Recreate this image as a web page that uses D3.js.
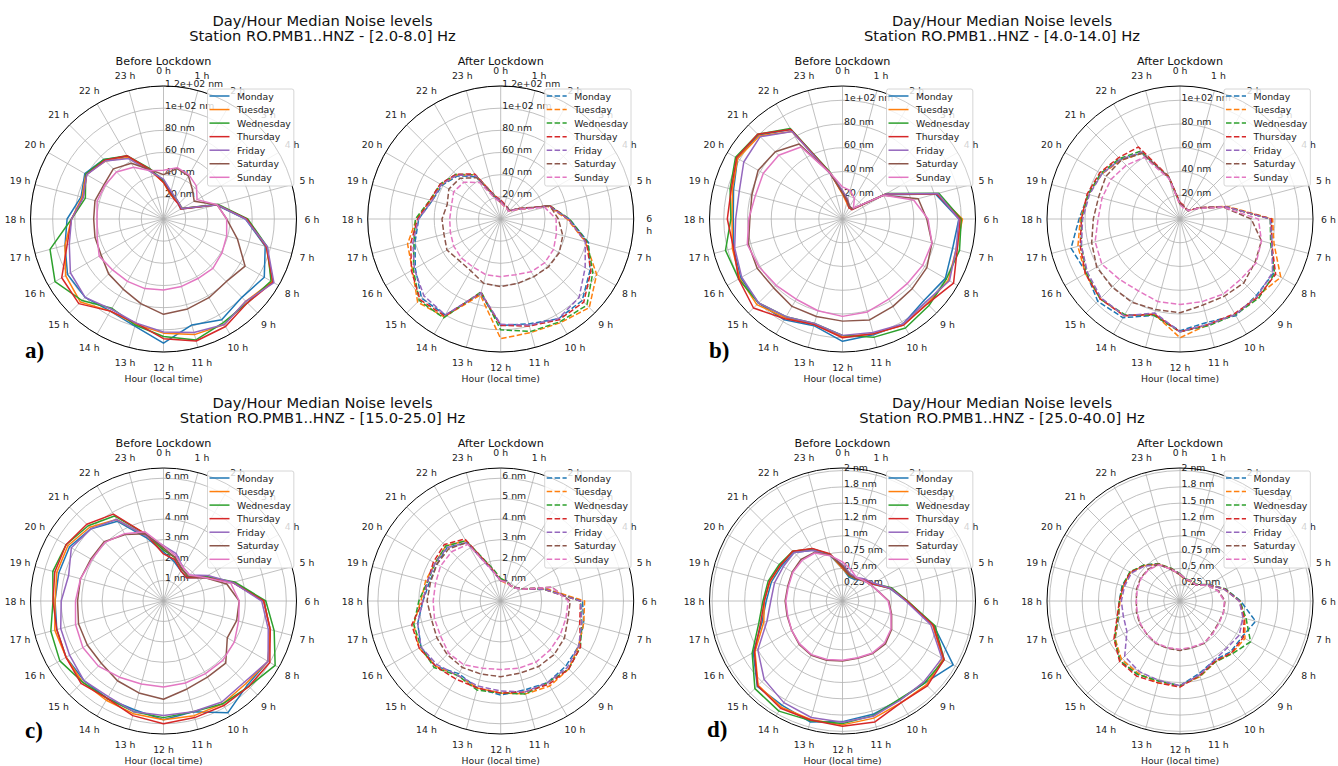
<!DOCTYPE html>
<html><head><meta charset="utf-8">
<script src="https://cdn.jsdelivr.net/npm/d3@7"></script>
<style>
body{margin:0;background:#fff;}
svg{display:block;font-family:"DejaVu Sans",sans-serif;}
</style></head><body>
<svg id="chart" width="1338" height="766"></svg>
<script>
// ---------------- data ----------------
const days = ["Monday","Tuesday","Wednesday","Thursday","Friday","Saturday","Sunday"];
const dayColors = ["#1f77b4","#ff7f0e","#2ca02c","#d62728","#9467bd","#8c564b","#e377c2"];
const hourLabels = ["0 h","1 h","2 h","3 h","4 h","5 h","6 h","7 h","8 h","9 h","10 h","11 h",
  "12 h","13 h","14 h","15 h","16 h","17 h","18 h","19 h","20 h","21 h","22 h","23 h"];
const hours = [0,1,2,3,4,5,6,7,8,9,10,11,12,13,14,15,16,17,18,19,20,21,22,23];

const bandLabels = ["[2.0-8.0] Hz","[4.0-14.0] Hz","[15.0-25.0] Hz","[25.0-40.0] Hz"];
const panelLetters = ["a)","b)","c)","d)"];

const aTicks = [20,40,60,80,100,120];
const aTickLabels = ["20 nm","40 nm","60 nm","80 nm","1e+02 nm","1.2e+02 nm"];
const bTicks = [20,40,60,80,100];
const bTickLabels = ["20 nm","40 nm","60 nm","80 nm","1e+02 nm"];
const cTicks = [1,2,3,4,5,6];
const cTickLabels = ["1 nm","2 nm","3 nm","4 nm","5 nm","6 nm"];
const dTicks = [0.25,0.5,0.75,1,1.25,1.5,1.75,2];
const dTickLabels = ["0.25 nm","0.5 nm","0.75 nm","1 nm","1.2 nm","1.5 nm","1.8 nm","2 nm"];
const radialMax = [120, 112, 6.5, 2.04];

// [2.0-8.0] Hz, before lockdown
const aBeforeMon = [35,25,21,19,18,49,74,95,105,100,105,99,112,100,96,100,100,92,87,77,82,76,65,46];
const aBeforeTue = [33,23,21,20,19,50,75,96,113,105,110,108,103,98,96,106,102,92,83,76,81,74,64,45];
const aBeforeWed = [34,24,22,20,19,51,76,97,112,107,108,113,106,99,93,104,113,106,83,73,81,76,66,47];
const aBeforeThu = [33,24,20,19,18,50,75,96,114,107,112,114,108,97,96,108,106,90,83,75,80,75,66,46];
const aBeforeFri = [36,26,22,20,19,50,74,97,115,105,110,106,102,97,94,100,97,88,83,75,80,74,63,44];
const aBeforeSat = [40,47,45,37,32,50,57,69,85,80,82,84,86,79,73,70,65,64,63,64,62,64,58,46];
const aBeforeSun = [44,48,46,42,35,50,57,59,61,63,62,63,64,65,65,65,67,62,60,62,61,60,54,45];
// [2.0-8.0] Hz, after lockdown
const aAfterMon = [16,13,12,11,18,45,62,82,93,104,104,98,96,70,100,101,89,80,74,64,61,55,44,21];
const aAfterTue = [15,12,11,10,17,44,60,79,100,113,108,106,108,71,102,106,92,87,76,65,62,56,46,22];
const aAfterWed = [16,13,12,10,18,46,62,81,96,110,107,105,100,68,103,104,91,81,77,66,63,57,46,22];
const aAfterThu = [17,14,12,10,19,46,61,80,94,106,105,100,96,69,101,103,93,84,75,66,63,57,47,22];
const aAfterFri = [16,13,12,10,18,45,61,79,88,100,104,99,95,69,100,98,90,82,74,64,62,56,45,21];
const aAfterSat = [15,13,12,11,18,46,52,58,61,61,60,60,61,60,54,53,56,53,53,50,54,52,43,20];
const aAfterSun = [15,12,11,10,17,41,50,52,55,56,55,52,52,52,50,50,49,47,46,46,49,47,38,19];

// [4.0-14.0] Hz, before lockdown
const bBeforeMon = [22,15,11,12,41,81,98,96,100,97,102,101,103,93,98,100,99,95,92,95,102,100,87,40];
const bBeforeTue = [21,14,11,12,42,82,101,99,103,101,103,100,99,92,96,102,100,96,93,96,102,99,85,40];
const bBeforeWed = [23,16,12,12,43,84,100,102,101,103,106,103,98,91,95,100,101,102,94,98,104,101,88,41];
const bBeforeThu = [22,15,11,11,42,82,99,100,108,101,103,100,100,92,97,106,101,95,97,97,103,101,87,40];
const bBeforeFri = [24,17,12,12,42,83,98,99,104,99,102,99,98,91,95,100,98,94,90,90,96,98,85,39];
const bBeforeSat = [22,16,12,12,40,66,71,78,82,83,85,88,86,85,85,82,83,82,78,79,82,80,73,40];
const bBeforeSun = [27,25,20,13,40,62,72,78,78,77,78,81,82,80,78,79,81,83,79,76,77,76,70,40];
// [4.0-14.0] Hz, after lockdown
const bAfterMon = [13,11,10,10,19,40,77,80,91,91,94,90,94,84,96,98,91,95,85,80,76,71,64,36];
const bAfterTue = [12,11,10,10,19,41,78,82,98,92,93,92,100,83,94,95,92,89,84,80,76,70,64,36];
const bAfterWed = [13,11,10,10,18,40,76,79,92,94,93,93,95,84,93,95,91,86,83,80,77,72,66,37];
const bAfterThu = [14,12,10,10,19,40,77,80,93,93,92,92,95,83,94,95,92,87,83,81,78,73,70,37];
const bAfterFri = [13,11,10,10,19,40,76,80,90,92,93,92,95,82,94,94,90,86,82,79,76,71,65,36];
const bAfterSat = [13,11,10,10,19,38,60,71,73,76,75,75,79,79,81,81,81,77,73,71,72,70,64,36];
const bAfterSun = [12,10,10,10,18,38,66,71,74,72,73,72,72,72,70,72,76,74,69,68,67,64,60,35];

// [15.0-25.0] Hz, before lockdown
const cBeforeMon = [2.4,2.0,1.7,1.6,2.3,3.5,4.9,5.4,5.9,5.8,6.3,5.6,5.8,5.5,5.5,5.5,5.5,5.4,5.3,5.3,5.3,5.0,4.5,3.2];
const cBeforeTue = [2.5,2.2,1.8,1.7,2.4,3.5,4.9,5.4,5.9,5.7,5.8,5.8,5.8,5.7,5.6,5.6,5.5,5.5,5.3,5.4,5.4,5.1,4.6,3.3];
const cBeforeWed = [2.5,2.2,1.8,1.7,2.4,3.6,5.0,5.6,6.3,5.9,5.8,5.6,5.7,5.6,5.5,5.6,5.85,5.7,5.4,5.6,5.5,5.2,4.8,3.4];
const cBeforeThu = [2.3,2.1,1.7,1.6,2.3,3.5,4.9,5.4,6.0,5.9,5.9,5.9,6.0,5.8,5.5,5.7,5.5,5.4,5.4,5.5,5.5,5.3,4.9,3.4];
const cBeforeFri = [2.7,2.4,1.9,1.8,2.5,3.5,4.8,5.3,5.9,5.6,5.7,5.6,5.6,5.6,5.4,5.5,5.3,5.2,5.0,4.8,5.2,5.0,4.6,3.3];
const cBeforeSat = [2.6,2.2,1.8,1.7,2.3,3.2,3.7,3.7,3.6,4.3,4.3,4.45,4.8,4.65,4.5,4.3,4.3,4.3,4.2,4.2,4.1,4.1,3.75,3.4];
const cBeforeSun = [2.7,2.3,1.9,1.8,2.3,3.4,3.7,3.8,4.0,4.1,4.1,4.15,4.2,4.2,4.3,4.5,4.55,4.45,4.3,4.2,4.05,4.05,3.8,3.5];
// [15.0-25.0] Hz, after lockdown
const cAfterMon = [1.0,1.0,0.9,0.9,1.2,2.3,4.0,4.2,4.4,4.5,4.6,4.5,4.6,4.4,4.1,4.5,4.5,4.2,3.8,3.6,3.6,3.7,3.3,1.6];
const cAfterTue = [1.0,0.9,0.9,0.9,1.2,2.3,4.1,4.2,4.4,4.7,4.8,4.7,4.5,4.4,4.2,4.5,4.6,4.4,3.9,3.8,3.7,3.8,3.4,1.6];
const cAfterWed = [1.1,1.0,0.9,0.95,1.2,2.2,3.9,4.1,4.5,4.7,4.6,4.7,4.5,4.5,4.2,4.6,4.5,4.4,4.0,3.7,3.7,3.8,3.4,1.7];
const cAfterThu = [1.0,1.0,0.9,0.95,1.2,2.2,3.9,4.0,4.5,4.7,4.7,4.6,4.5,4.4,4.4,4.5,4.6,4.5,3.8,3.7,3.8,3.9,3.5,1.6];
const cAfterFri = [1.0,1.0,0.9,0.95,1.2,2.2,3.9,4.1,4.4,4.6,4.6,4.6,4.4,4.3,4.2,4.4,4.5,4.2,3.8,3.7,3.7,3.7,3.3,1.5];
const cAfterSat = [1.0,1.0,0.9,0.9,1.2,2.6,3.4,3.4,3.6,3.7,3.7,3.65,3.7,3.7,3.75,3.7,3.6,3.5,3.6,3.55,3.6,3.6,3.3,1.6];
const cAfterSun = [1.0,0.95,0.9,0.9,1.15,2.6,3.3,3.3,3.35,3.4,3.45,3.4,3.35,3.4,3.6,3.6,3.4,3.35,3.3,3.3,3.4,3.4,3.2,1.55];

// [25.0-40.0] Hz, before lockdown
const dBeforeMon = [0.5,0.38,0.38,0.45,0.52,0.75,0.98,1.45,1.96,1.78,1.75,1.8,1.85,1.92,1.85,1.85,1.58,1.28,1.17,1.13,1.08,1.05,0.9,0.72];
const dBeforeTue = [0.5,0.4,0.4,0.45,0.53,0.76,1.0,1.43,1.78,1.82,1.8,1.86,1.9,1.88,1.88,1.83,1.55,1.25,1.2,1.15,1.1,1.08,0.92,0.74];
const dBeforeWed = [0.52,0.4,0.4,0.47,0.54,0.78,1.0,1.47,1.8,1.78,1.74,1.82,1.88,1.9,1.95,1.9,1.6,1.33,1.22,1.18,1.12,1.08,0.92,0.74];
const dBeforeThu = [0.52,0.41,0.4,0.46,0.53,0.76,0.99,1.44,1.8,1.84,1.8,1.92,1.92,1.89,1.9,1.84,1.56,1.3,1.2,1.16,1.1,1.08,0.93,0.75];
const dBeforeFri = [0.56,0.44,0.42,0.48,0.55,0.76,0.97,1.4,1.76,1.76,1.76,1.83,1.86,1.85,1.8,1.7,1.5,1.2,1.1,1.08,1.05,1.05,0.9,0.72];
const dBeforeSat = [0.54,0.42,0.4,0.45,0.5,0.57,0.71,0.78,0.87,0.93,0.93,0.91,0.92,0.94,0.96,0.94,0.9,0.88,0.88,0.87,0.89,0.9,0.86,0.73];
const dBeforeSun = [0.6,0.5,0.42,0.45,0.5,0.57,0.7,0.77,0.86,0.91,0.92,0.9,0.91,0.93,0.95,0.93,0.9,0.87,0.87,0.86,0.88,0.88,0.85,0.72];
// [25.0-40.0] Hz, after lockdown
const dAfterMon = [0.41,0.34,0.35,0.35,0.5,0.72,0.93,1.2,1.1,1.1,1.05,1.15,1.3,1.27,1.3,1.3,1.15,0.97,0.93,0.92,0.88,0.78,0.66,0.5];
const dAfterTue = [0.4,0.33,0.34,0.35,0.5,0.7,0.92,1.03,1.15,1.13,1.08,1.2,1.3,1.3,1.28,1.27,1.15,0.98,0.92,0.9,0.88,0.77,0.65,0.5];
const dAfterWed = [0.42,0.35,0.36,0.36,0.51,0.72,0.92,1.05,1.25,1.14,1.08,1.19,1.3,1.27,1.3,1.3,1.16,0.99,0.93,0.91,0.89,0.78,0.66,0.52];
const dAfterThu = [0.41,0.34,0.35,0.35,0.5,0.71,0.91,1.02,1.12,1.12,1.07,1.18,1.32,1.3,1.33,1.31,1.17,1.0,0.93,0.9,0.88,0.77,0.65,0.51];
const dAfterFri = [0.41,0.34,0.35,0.35,0.5,0.7,0.91,1.0,1.05,1.02,1.05,1.17,1.3,1.26,1.25,1.2,0.94,0.9,0.9,0.88,0.86,0.76,0.64,0.5];
const dAfterSat = [0.4,0.34,0.35,0.35,0.48,0.61,0.69,0.69,0.68,0.7,0.75,0.74,0.76,0.75,0.75,0.72,0.71,0.69,0.67,0.69,0.7,0.69,0.65,0.5];
const dAfterSun = [0.41,0.35,0.35,0.35,0.48,0.6,0.68,0.69,0.69,0.71,0.74,0.73,0.74,0.74,0.74,0.72,0.7,0.68,0.67,0.68,0.69,0.68,0.64,0.5];

// ---------------- assembly ----------------
const panels = [
  {ticks:aTicks, tickLabels:aTickLabels,
   before:[aBeforeMon,aBeforeTue,aBeforeWed,aBeforeThu,aBeforeFri,aBeforeSat,aBeforeSun],
   after:[aAfterMon,aAfterTue,aAfterWed,aAfterThu,aAfterFri,aAfterSat,aAfterSun]},
  {ticks:bTicks, tickLabels:bTickLabels,
   before:[bBeforeMon,bBeforeTue,bBeforeWed,bBeforeThu,bBeforeFri,bBeforeSat,bBeforeSun],
   after:[bAfterMon,bAfterTue,bAfterWed,bAfterThu,bAfterFri,bAfterSat,bAfterSun]},
  {ticks:cTicks, tickLabels:cTickLabels,
   before:[cBeforeMon,cBeforeTue,cBeforeWed,cBeforeThu,cBeforeFri,cBeforeSat,cBeforeSun],
   after:[cAfterMon,cAfterTue,cAfterWed,cAfterThu,cAfterFri,cAfterSat,cAfterSun]},
  {ticks:dTicks, tickLabels:dTickLabels,
   before:[dBeforeMon,dBeforeTue,dBeforeWed,dBeforeThu,dBeforeFri,dBeforeSat,dBeforeSun],
   after:[dAfterMon,dAfterTue,dAfterWed,dAfterThu,dAfterFri,dAfterSat,dAfterSun]}
];

// layout (positions only)
const layout = [
  {cxL:163.5, cxR:500.7, cy:219, titleX:322.5, titleY:20, letterX:25, letterY:358},
  {cxL:842.5, cxR:1180, cy:219, titleX:1002, titleY:20, letterX:709, letterY:358},
  {cxL:163.5, cxR:500.7, cy:601, titleX:322.5, titleY:402, letterX:25, letterY:738},
  {cxL:842.5, cxR:1180, cy:601, titleX:1002, titleY:402, letterX:707, letterY:737}
];
const R = 133;
const smallFont = 9.3;

const svg = d3.select("#chart");
svg.append("rect").attr("width",1338).attr("height",766).attr("fill","#fff");

const angle = d3.scaleLinear().domain([0,24]).range([0, 2*Math.PI]);

function drawPolar(cx, cy, rmax, ticks, tickLabels, series, dashed, subtitle, wrapSix) {
  const g = svg.append("g").attr("transform", `translate(${cx},${cy})`);
  const r = d3.scaleLinear().domain([0, rmax]).range([0, R]);

  // grid circles
  g.selectAll("circle.grid").data(ticks).join("circle")
    .attr("r", d => r(d)).attr("fill","none")
    .attr("stroke","#b0b0b0").attr("stroke-width",0.8);
  // spokes
  g.selectAll("line.spoke").data(hours).join("line")
    .attr("x1",0).attr("y1",0)
    .attr("x2", d => R*Math.sin(angle(d)))
    .attr("y2", d => -R*Math.cos(angle(d)))
    .attr("stroke","#b0b0b0").attr("stroke-width",0.8);
  // radial labels
  g.selectAll("text.rl").data(ticks).join("text")
    .attr("x", 1.6).attr("y", d => -r(d) + 0.5)
    .attr("font-size", smallFont).attr("fill","#222")
    .text((d,i) => tickLabels[i]);

  // lines
  const line = d3.lineRadial()
    .angle((d,i) => angle(hours[i]))
    .radius(d => r(d))
    .curve(d3.curveLinearClosed);
  series.forEach((s, i) => {
    g.append("path").attr("d", line(s))
      .attr("fill","none").attr("stroke", dayColors[i])
      .attr("stroke-width",1.5)
      .attr("stroke-linejoin","round")
      .attr("stroke-dasharray", dashed ? "5.5,2.4" : null);
  });

  // outer spine
  g.append("circle").attr("r", R).attr("fill","none")
    .attr("stroke","#000").attr("stroke-width",1);

  // hour labels
  hours.forEach((h, i) => {
    const a = angle(h), rl = 148.5;
    const t = g.append("text")
      .attr("x", rl*Math.sin(a)).attr("y", -rl*Math.cos(a))
      .attr("text-anchor","middle").attr("dominant-baseline","central")
      .attr("font-size", smallFont).attr("fill","#222");
    if (wrapSix && h === 6) {
      t.attr("y", -1).text("6");
      g.append("text").attr("x", rl*Math.sin(a)).attr("y", 11)
        .attr("text-anchor","middle").attr("dominant-baseline","central")
        .attr("font-size", smallFont).attr("fill","#222").text("h");
    } else {
      t.text(hourLabels[i]);
    }
  });

  // subtitle & axis label
  g.append("text").attr("x",0).attr("y",-157.3)
    .attr("text-anchor","middle").attr("dominant-baseline","central")
    .attr("font-size",11.2).attr("fill","#111").text(subtitle);
  g.append("text").attr("x",0).attr("y",159)
    .attr("text-anchor","middle").attr("dominant-baseline","central")
    .attr("font-size",smallFont).attr("fill","#222").text("Hour (local time)");

  // legend
  const lg = g.append("g");
  const lx = 44, ly = -130, textX = 73.5;
  const bg = lg.append("rect");
  let maxW = 0;
  days.forEach((d, i) => {
    const y = -123 + i*13.55;
    lg.append("line").attr("x1",46).attr("x2",66).attr("y1",y).attr("y2",y)
      .attr("stroke", dayColors[i]).attr("stroke-width",1.5)
      .attr("stroke-dasharray", dashed ? "5.5,2.4" : null);
    const t = lg.append("text").attr("x",textX).attr("y",y)
      .attr("dominant-baseline","central").attr("font-size",smallFont)
      .attr("fill","#222").text(d);
    maxW = Math.max(maxW, t.node().getComputedTextLength());
  });
  bg.attr("x",lx).attr("y",ly).attr("width", textX - lx + maxW + 3).attr("height",97)
    .attr("rx",2).attr("fill","#fff").attr("fill-opacity",0.8)
    .attr("stroke","#cccccc").attr("stroke-width",0.8);
}

panels.forEach((p, k) => {
  const L = layout[k];
  drawPolar(L.cxL, L.cy, radialMax[k], p.ticks, p.tickLabels, p.before, false, "Before Lockdown", false);
  drawPolar(L.cxR, L.cy, radialMax[k], p.ticks, p.tickLabels, p.after, true, "After Lockdown", k === 0);
  svg.append("text").attr("x", L.titleX).attr("y", L.titleY)
    .attr("text-anchor","middle").attr("dominant-baseline","central")
    .attr("font-size",14.7).attr("fill","#111").text("Day/Hour Median Noise levels");
  svg.append("text").attr("x", L.titleX).attr("y", L.titleY + 15)
    .attr("text-anchor","middle").attr("dominant-baseline","central")
    .attr("font-size",14.7).attr("fill","#111").text("Station RO.PMB1..HNZ - " + bandLabels[k]);
  svg.append("text").attr("x", L.letterX).attr("y", L.letterY)
    .attr("font-family","'Liberation Serif',serif").attr("font-weight","bold")
    .attr("font-size",23).attr("fill","#000").text(panelLetters[k]);
});
</script>
</body></html>
